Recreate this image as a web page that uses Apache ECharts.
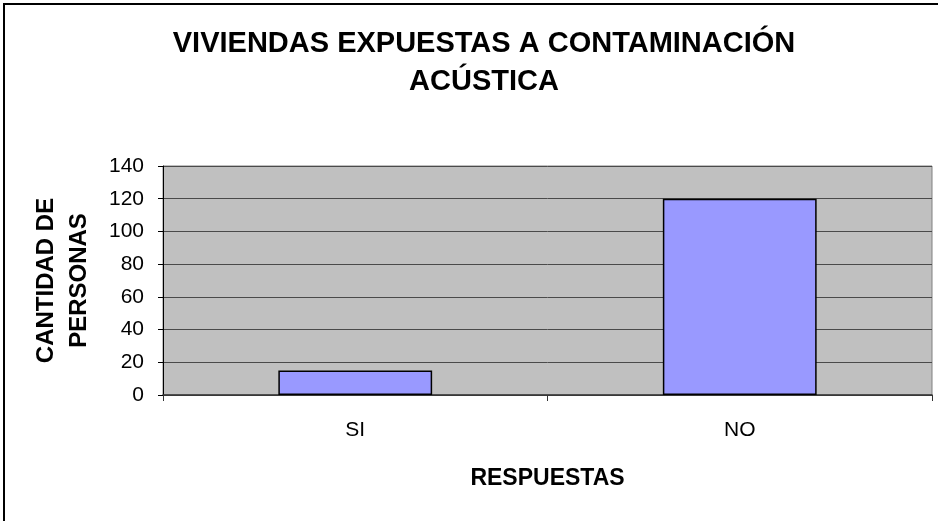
<!DOCTYPE html>
<html>
<head>
<meta charset="utf-8">
<script src="https://cdn.jsdelivr.net/npm/echarts@6/dist/echarts.min.js"></script>
<style>html,body{margin:0;padding:0;background:#fff;}#c{width:938px;height:521px;}</style>
</head>
<body>
<div id="c"></div>
<script>
var categories = ['SI', 'NO'];
var values = [15, 120];
var yTicks = [0, 20, 40, 60, 80, 100, 120, 140];
var titleText = 'VIVIENDAS EXPUESTAS A CONTAMINACIÓN\nACÚSTICA';
var xName = 'RESPUESTAS';
var yName = 'CANTIDAD DE\nPERSONAS';

var chart = echarts.init(document.getElementById('c'), null, {renderer: 'canvas'});
var font = 'Liberation Sans, Arial, sans-serif';
chart.setOption({
  backgroundColor: '#fff',
  animation: false,
  graphic: [{
    type: 'rect', shape: {x: 4, y: 4, width: 1000, height: 1000},
    style: {fill: 'none', stroke: '#000', lineWidth: 2}, silent: true, z: 100
  }],
  title: {
    text: titleText,
    left: 479, top: 20, textAlign: 'center',
    textStyle: {fontFamily: font, fontWeight: 'bold', fontSize: 29, lineHeight: 38, color: '#000'}
  },
  grid: {
    left: 163, right: 6, top: 166, bottom: 126,
    show: true, backgroundColor: '#C0C0C0', borderColor: '#808080', borderWidth: 1
  },
  xAxis: {
    type: 'category', data: categories,
    name: xName, nameLocation: 'middle', nameGap: 72,
    nameTextStyle: {fontFamily: font, fontWeight: 'bold', fontSize: 23, color: '#000'},
    axisLine: {lineStyle: {color: '#333', width: 1.5}},
    axisTick: {show: true, length: 6, lineStyle: {color: '#333'}},
    axisLabel: {fontFamily: font, fontSize: 21, color: '#000', margin: 25}
  },
  yAxis: {
    type: 'value', min: 0, max: 140, interval: 20,
    name: yName, nameLocation: 'middle', nameGap: 67,
    nameTextStyle: {fontFamily: font, fontWeight: 'bold', fontSize: 24, lineHeight: 33, color: '#000', align: 'center'},
    axisLine: {show: true, lineStyle: {color: '#000', width: 1}},
    axisTick: {show: true, length: 5, lineStyle: {color: '#000'}},
    axisLabel: {fontFamily: font, fontSize: 21, color: '#000', margin: 19,
      formatter: function (v) { return yTicks.indexOf(v) >= 0 ? String(v) : ''; }},
    splitLine: {show: true, lineStyle: {color: '#4a4a4a', width: 1}}
  },
  series: [{
    type: 'bar', data: values, barCategoryGap: '60%',
    itemStyle: {color: '#9999FF', borderColor: '#000', borderWidth: 1.5}
  }]
});
</script>
</body>
</html>
